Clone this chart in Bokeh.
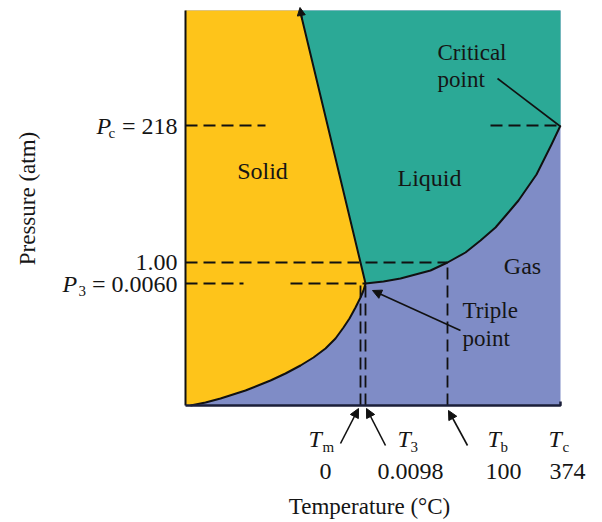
import math
from bokeh.plotting import figure
from bokeh.models import Range1d, Arrow, NormalHead
from bokeh.core.properties import value
from bokeh.embed import file_html
from bokeh.resources import INLINE

# ---- schematic phase diagram of water (positions in schematic units) ----
t_subs = ["m", "3", "b", "c"]
t_pos = [175, 180, 262, 375]            # Tm, T3, Tb, Tc
t_values = ["0", "0.0098", "100", "374"]
p_levels = [122, 143, 280]              # P3, 1 atm, Pc
p_texts = ["= 0.0060", "1.00", "= 218"]

# solid-gas (sublimation) curve
sg_x = [5, 20, 35, 60, 85, 100, 115, 128, 140, 150, 158, 164, 170, 175, 178, 180]
sg_y = [0, 3, 7, 15, 25, 32, 40, 48, 57, 67, 78, 87, 98, 108, 115, 122]
# solid-liquid (melting) line
sl_x = [180, 175, 114.5]
sl_y = [122, 143, 395]
# liquid-gas (vaporization) curve
lg_x = [180, 198, 215, 230, 245, 262, 280, 295, 310, 322, 333, 342, 351, 358, 366, 375]
lg_y = [122, 124, 127, 131, 135, 143, 153, 165, 178, 192, 205, 218, 231, 245, 261, 280]

X_MAX, Y_MAX = 375, 395

FONT = value("Liberation Serif")
TXT = "#151515"
YELLOW = "#FEC41A"
TEAL = "#2BA996"
BLUE = "#7F8CC6"

p = figure(width=602, height=522, output_backend="svg", toolbar_location=None,
           x_range=Range1d(-185, 417), y_range=Range1d(-117, 405),
           x_axis_location=None, y_axis_location=None, min_border=0)
p.outline_line_color = None
p.xgrid.visible = False
p.ygrid.visible = False
p.background_fill_color = "white"

# regions
p.patch([0, X_MAX, X_MAX, 0], [0, 0, Y_MAX, Y_MAX], color=BLUE, line_width=0)
p.patch([0] + sg_x + sl_x[1:] + [0], [0] + sg_y + sl_y[1:] + [Y_MAX],
        color=YELLOW, line_width=0)
p.patch(lg_x + [X_MAX, sl_x[2], sl_x[1]], lg_y + [Y_MAX, sl_y[2], sl_y[1]],
        color=TEAL, line_width=0)

# dashed reference lines
pc, p1, p3 = p_levels[2], p_levels[1], p_levels[0]
tm, t3, tb, tc = t_pos
dash_xs = [[0, 80], [305, tc], [0, tb], [0, 58], [105, t3],
           [tm, tm], [t3, t3], [tb, tb]]
dash_ys = [[pc, pc], [pc, pc], [p1, p1], [p3, p3], [p3, p3],
           [0, p3], [0, p3], [0, p1]]
p.multi_line(dash_xs, dash_ys, line_color="#111111", line_width=1.8,
             line_dash="12 6")

# boundary curves
for xs, ys in [(sg_x, sg_y), (sl_x, sl_y), (lg_x, lg_y)]:
    p.line(xs, ys, line_color="#111111", line_width=2, line_join="round")

# axis lines
p.line([0, 0], [0, Y_MAX], line_color="#111111", line_width=2)
p.line([0, X_MAX, X_MAX], [0, 0, 4], line_color="#1b1f3a", line_width=2.5)

# arrows
def arrow(x0, y0, x1, y1, size=9):
    p.add_layout(Arrow(end=NormalHead(size=size, fill_color="#111111",
                                      line_color="#111111", line_width=1),
                       x_start=x0, y_start=y0, x_end=x1, y_end=y1,
                       line_color="#111111", line_width=1.6))

arrow(116.5, 386, 114.5, 398, size=8)          # top of melting line
arrow(155, -38, tm - 2, -3)                    # Tm
arrow(200, -40, t3 + 1, -3)                    # T3
arrow(282, -40, tb + 1, -5)                    # Tb
arrow(275, 75, 187, 115)                       # triple point
p.line([312, tc], [327, pc - 1], line_color="#111111", line_width=1.6)  # critical

# region labels
p.text(x=[77, 244, 337], y=[235, 228, 140], text=["Solid", "Liquid", "Gas"],
       text_font=FONT, text_font_size="24px", text_color=TXT,
       text_align="center", text_baseline="middle")
p.text(x=[277, 277, 252, 252], y=[95, 67, 353, 326],
       text=["Triple", "point", "Critical", "point"],
       text_font=FONT, text_font_size="23px", text_color=TXT,
       text_align="left", text_baseline="middle")

# pressure labels
p.text(x=[-8, -8, -8], y=p_levels, text=p_texts, text_font=FONT,
       text_font_size="24px", text_color=TXT, text_align="right",
       text_baseline="middle")
p.text(x=[-123, -89], y=[p3, pc], text=["P", "P"], text_font=FONT,
       text_font_style="italic", text_font_size="24px", text_color=TXT,
       text_align="left", text_baseline="middle")
p.text(x=[-107, -77], y=[p3 - 7, pc - 7], text=["3", "c"], text_font=FONT,
       text_font_size="15px", text_color=TXT, text_align="left",
       text_baseline="middle")

# temperature labels
p.text(x=[123, 212, 302, 363], y=[-33] * 4, text=["T"] * 4, text_font=FONT,
       text_font_style="italic", text_font_size="24px", text_color=TXT,
       text_align="left", text_baseline="middle")
p.text(x=[137, 225, 315, 377], y=[-41] * 4, text=t_subs, text_font=FONT,
       text_font_size="15px", text_color=TXT, text_align="left",
       text_baseline="middle")
p.text(x=[140, 225, 318, 382], y=[-66] * 4, text=t_values, text_font=FONT,
       text_font_size="24px", text_color=TXT, text_align="center",
       text_baseline="middle")

# axis titles
p.text(x=[184], y=[-101], text=["Temperature (\u00b0C)"], text_font=FONT,
       text_font_size="23px", text_color=TXT, text_align="center",
       text_baseline="middle")
p.text(x=[-158], y=[207], text=["Pressure (atm)"], angle=math.pi / 2,
       text_font=FONT, text_font_size="23px", text_color=TXT,
       text_align="center", text_baseline="middle")

open("out.html", "w").write(file_html(p, INLINE))
